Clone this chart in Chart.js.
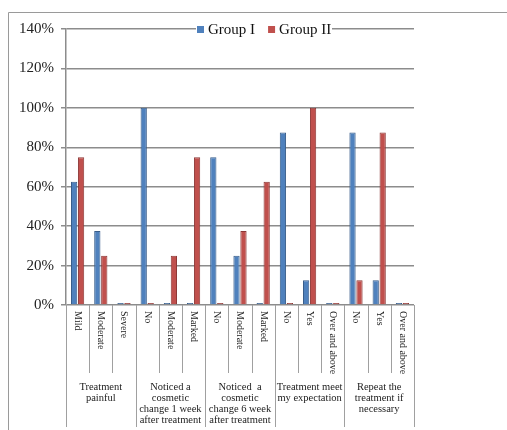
<!DOCTYPE html>
<html>
<head>
<meta charset="utf-8">
<script src="https://cdn.jsdelivr.net/npm/chart.js@4/dist/chart.umd.min.js"></script>
<style>
  html, body { margin: 0; padding: 0; background: #fff; }
  #wrap { width: 507px; height: 430px; position: relative; }
</style>
</head>
<body>
<div id="wrap"><canvas id="chart"></canvas></div>
<script>
// chart data
const categories = ['Mild', 'Moderate', 'Severe', 'No', 'Moderate', 'Marked', 'No', 'Moderate', 'Marked',
    'No', 'Yes', 'Over and above', 'No', 'Yes', 'Over and above'];
const groupOne = [62.5, 37.5, 0, 100, 0, 0, 75, 25, 0, 87.5, 12.5, 0, 87.5, 12.5, 0];
const groupTwo = [75, 25, 0, 0, 25, 75, 0, 37.5, 62.5, 0, 100, 0, 12.5, 87.5, 0];
const seriesNames = ['Group I', 'Group II'];
const groupSizes = [3, 3, 3, 3, 3];
const groupLabels = [
    ['Treatment', 'painful'],
    ['Noticed a', 'cosmetic', 'change 1 week', 'after treatment'],
    ['Noticed  a', 'cosmetic', 'change 6 week', 'after treatment'],
    ['Treatment meet', 'my expectation'],
    ['Repeat the', 'treatment if', 'necessary']
];
const yMax = 140;
const yStep = 20;

const serif = "'Liberation Serif', 'Times New Roman', serif";
const lineGrey = '#8c8c8c';

// frame, category table under the axis and the legend
const decorations = {
    id: 'decorations',
    beforeDraw(chart) {
        const ctx = chart.ctx;
        ctx.save();
        ctx.strokeStyle = '#9a9a9a';
        ctx.lineWidth = 1;
        ctx.beginPath();
        ctx.moveTo(8.5, 430);
        ctx.lineTo(8.5, 12.5);
        ctx.lineTo(507, 12.5);
        ctx.stroke();
        ctx.restore();
    },
    afterDraw(chart) {
        const ctx = chart.ctx;
        const x = chart.scales.x;
        const area = chart.chartArea;
        const w = (area.right - area.left) / categories.length;
        const base = area.bottom;
        ctx.save();

        // separators
        ctx.strokeStyle = '#a0a0a0';
        ctx.lineWidth = 1;
        let starts = [0];
        groupSizes.forEach(n => starts.push(starts[starts.length - 1] + n));
        for (let i = 0; i <= categories.length; i++) {
            const px = Math.round(x.getPixelForValue(i) - w / 2) + 0.5;
            const bottom = starts.includes(i) ? 427 : 373;
            ctx.beginPath();
            ctx.moveTo(px, base);
            ctx.lineTo(px, bottom);
            ctx.stroke();
        }

        // rotated category labels
        ctx.fillStyle = '#222';
        ctx.font = '10px ' + serif;
        ctx.textAlign = 'left';
        ctx.textBaseline = 'middle';
        categories.forEach((c, i) => {
            ctx.save();
            ctx.translate(x.getPixelForValue(i), base + 6);
            ctx.rotate(Math.PI / 2);
            ctx.fillText(c, 0, 0);
            ctx.restore();
        });

        // group labels
        ctx.textAlign = 'center';
        ctx.font = '10.5px ' + serif;
        groupLabels.forEach((lines, g) => {
            const a = x.getPixelForValue(starts[g]) - w / 2;
            const b = x.getPixelForValue(starts[g + 1] - 1) + w / 2;
            lines.forEach((t, k) => {
                ctx.fillText(t, (a + b) / 2, 387 + k * 11);
            });
        });

        // legend on top gridline
        const colors = chart.data.datasets.map(d => d.backgroundColor);
        ctx.font = '15px ' + serif;
        ctx.textAlign = 'left';
        ctx.fillStyle = '#fff';
        ctx.fillRect(196, 21, 136, 16);
        let lx = 197;
        seriesNames.forEach((name, i) => {
            ctx.fillStyle = colors[i];
            ctx.fillRect(lx, 26, 7, 7);
            ctx.fillStyle = '#111';
            ctx.fillText(name, lx + 11, 30);
            lx += 11 + ctx.measureText(name).width + 13;
        });
        ctx.restore();
    }
};

document.addEventListener('DOMContentLoaded', () => {
    const ctx = document.getElementById('chart').getContext('2d');
    new Chart(ctx, {
        type: 'bar',
        data: {
            labels: categories,
            datasets: [
                { label: seriesNames[0], data: groupOne, backgroundColor: '#4F81BD', borderColor: '#385D8A', borderWidth: 1 },
                { label: seriesNames[1], data: groupTwo, backgroundColor: '#C0504D', borderColor: '#8C3836', borderWidth: 1 }
            ]
        },
        options: {
            responsive: true,
            maintainAspectRatio: false,
            animation: false,
            categoryPercentage: 0.6,
            barPercentage: 0.9,
            minBarLength: 2,
            layout: { padding: { left: 0, right: 93, top: 29, bottom: 125 } },
            plugins: {
                legend: { display: false },
                tooltip: { enabled: false }
            },
            scales: {
                x: { display: false },
                y: {
                    min: 0,
                    max: yMax,
                    afterFit: s => { s.width = 66; },
                    ticks: {
                        stepSize: yStep,
                        padding: 7,
                        color: '#222',
                        font: { family: serif, size: 15 },
                        callback: v => v + '%'
                    },
                    grid: { color: lineGrey, lineWidth: 1.5, tickLength: 5, tickColor: lineGrey },
                    border: { color: lineGrey, width: 1.5 }
                }
            }
        },
        plugins: [decorations]
    });
});
</script>
</body>
</html>
